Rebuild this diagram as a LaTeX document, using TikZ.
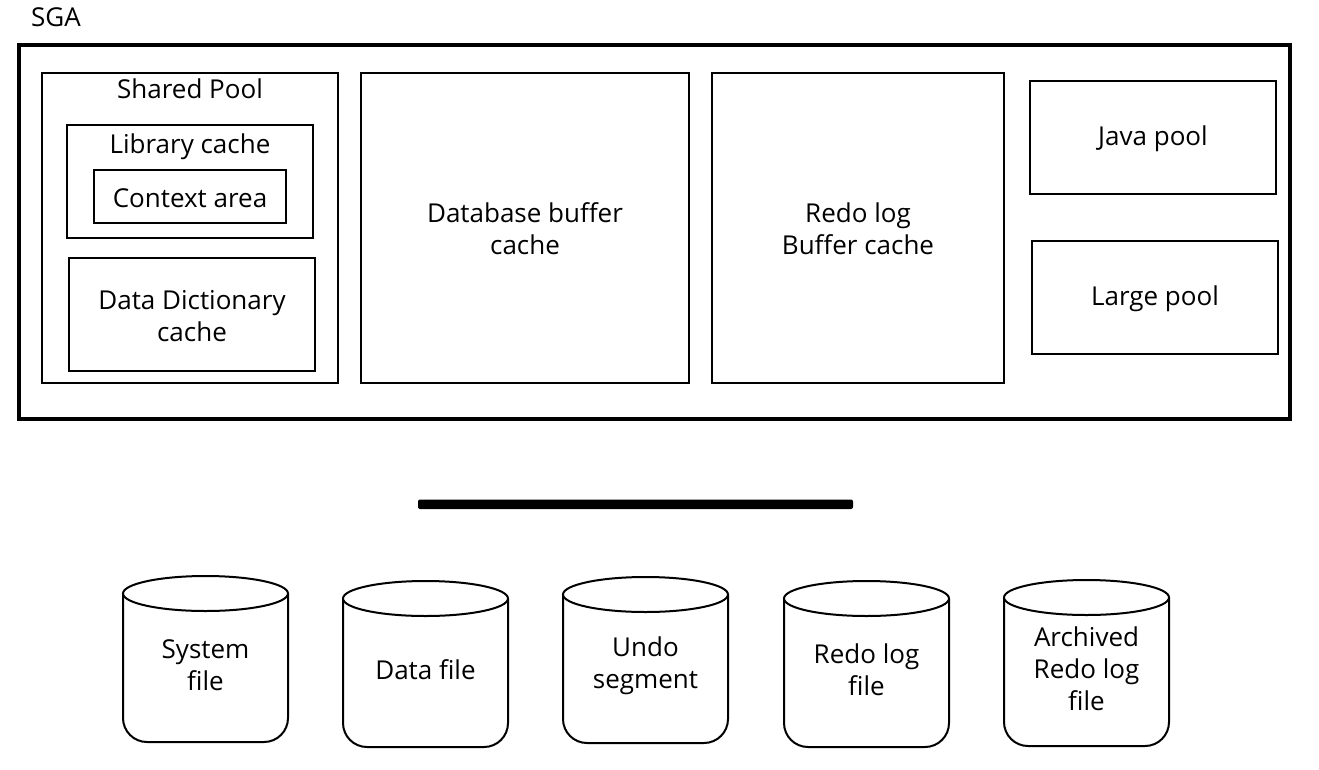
\documentclass[tikz,border=0pt]{standalone}
\usepackage{fontspec}
\setmainfont{Open Sans}
\tikzset{
  thinbox/.style={draw, line width=1.5pt},
  thickbox/.style={draw, line width=3pt},
  lbl/.style={inner sep=0pt, align=center, font=\fontsize{19.5}{24}\selectfont, yshift=-0.75pt},
}
\newcommand\dbcyl[4]{% x0, yt, name, text
  \pgfmathsetmacro\xa{#1}\pgfmathsetmacro\xb{#1+165}
  \pgfmathsetmacro\xc{#1+82.5}\pgfmathsetmacro\ye{#2+17.5}
  \pgfmathsetmacro\yb{#2+166}\pgfmathsetmacro\yt{(#2+17.5+#2+166)/2-4}
  \draw[line width=1.5pt, rounded corners=18pt] (\xa,\ye) -- (\xa,\yb) -- (\xb,\yb) -- (\xb,\ye);
  \draw[line width=1.5pt, fill=white] (\xc,\ye) ellipse [x radius=82.5, y radius=17.5];
  \node[lbl] (#3) at (\xc,\yt) {#4};
}
\begin{document}
\begin{tikzpicture}[x=0.75pt, y=-0.75pt]
\useasboundingbox (0,0) rectangle (1319,770);
\node[lbl] (sga) at (56,16) {SGA};
\draw[thickbox] (19,45) rectangle (1290,419);
% shared pool
\draw[thinbox] (42,73) rectangle (338,383);
\node[lbl] (sp) at (190,88) {Shared Pool};
\draw[thinbox] (67,125) rectangle (313,238);
\node[lbl] (lc) at (190,146) {Library cache};
\draw[thinbox] (94,170) rectangle (286,223);
\node[lbl] (ca) at (190,197) {Context area};
\draw[thinbox] (69,258) rectangle (315,371);
\node[lbl] (dd) at (192,315) {Data Dictionary\\cache};
% buffers
\draw[thinbox] (361,73) rectangle (689,383);
\node[lbl] (dbc) at (525,228) {Database buffer\\cache};
\draw[thinbox] (712,73) rectangle (1004,383);
\node[lbl] (rbc) at (858,228) {Redo log\\Buffer cache};
\draw[thinbox] (1030,81) rectangle (1276,194);
\node[lbl] (jp) at (1153,138) {Java pool};
\draw[thinbox] (1032,241) rectangle (1278,354);
\node[lbl] (lp) at (1155,298) {Large pool};
% bar
\fill[rounded corners=1.5pt] (418,499.5) rectangle (853,509);
% cylinders
\dbcyl{123}{576}{sys}{System\\file}
\dbcyl{343}{581}{dat}{Data file}
\dbcyl{563}{577}{undo}{Undo\\segment}
\dbcyl{784}{581}{redo}{Redo log\\file}
\dbcyl{1004}{580}{arch}{Archived\\Redo log\\file}
\end{tikzpicture}
\end{document}
